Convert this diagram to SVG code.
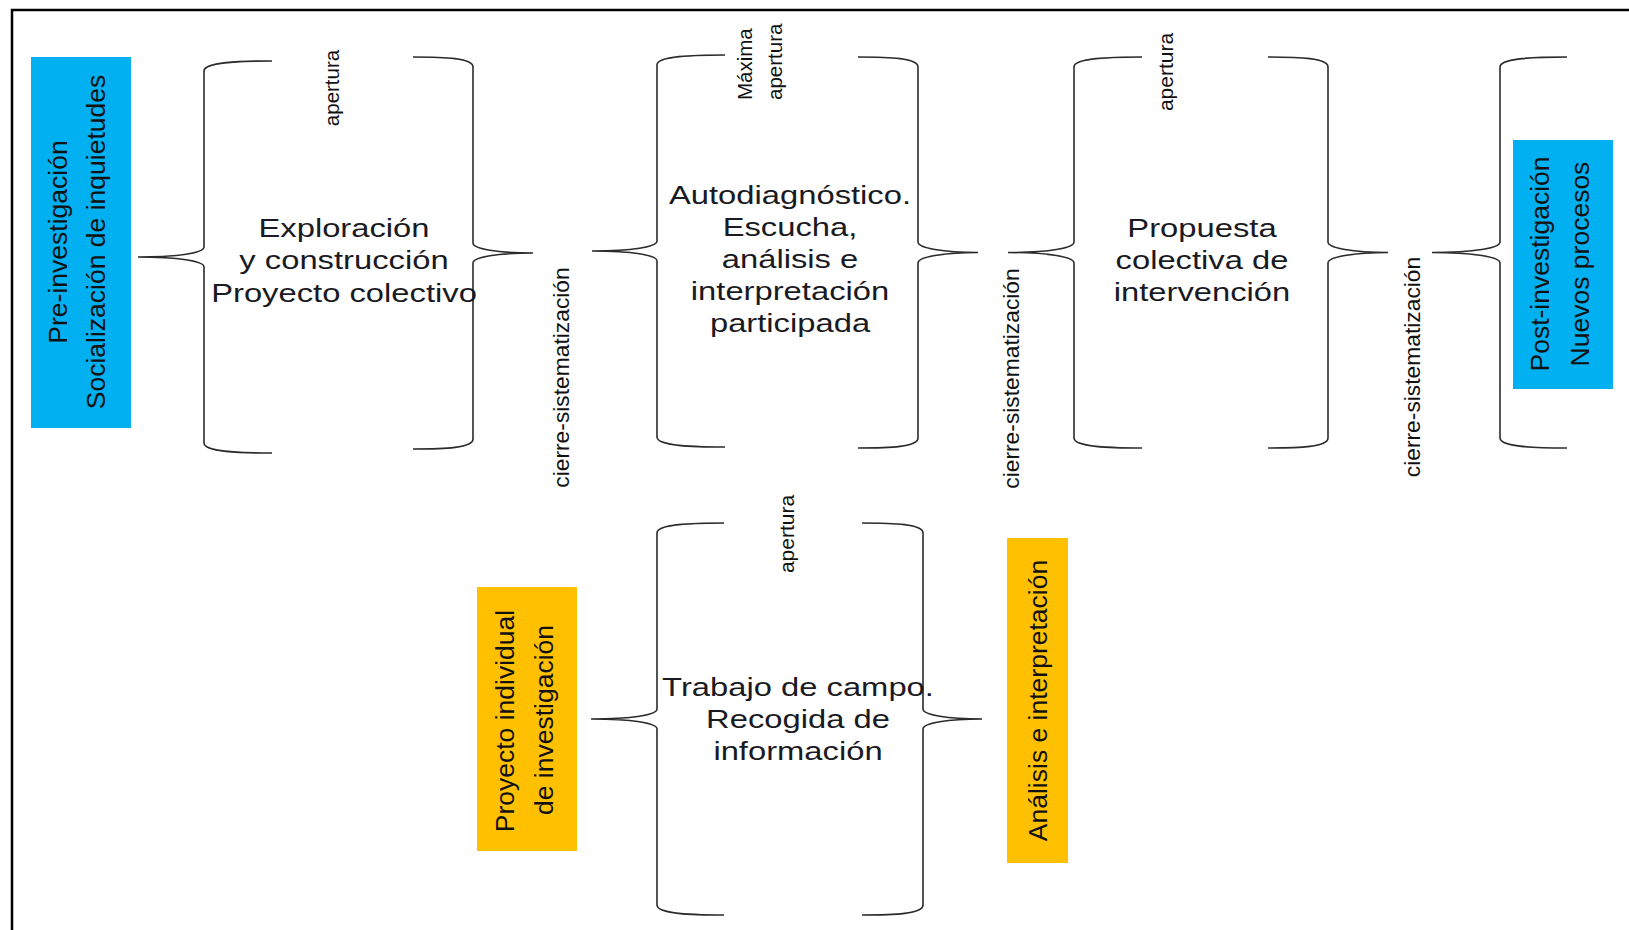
<svg xmlns="http://www.w3.org/2000/svg" width="1629" height="930" viewBox="0 0 1629 930">
<style>
  .bg{fill:#ffffff}
  .frame{fill:none;stroke:#000;stroke-width:2.5}
  .brace{fill:none;stroke:#2b2b2b;stroke-width:1.6}
  .blue{fill:#00B0F0}
  .yellow{fill:#FFC000}
  .box{font-family:"Liberation Sans",Arial,sans-serif;font-size:26.5px;fill:#111;text-anchor:middle}
  .mid{font-family:"Liberation Sans",Arial,sans-serif;font-size:25px;fill:#1a1a22;text-anchor:middle}
  .lab{font-family:"Liberation Sans",Arial,sans-serif;font-size:20.5px;fill:#111}
  .cierre{font-family:"Liberation Sans",Arial,sans-serif;font-size:22.8px;fill:#111;text-anchor:middle}
</style>
<rect class="bg" x="0" y="0" width="1629" height="930"/>
<path class="frame" d="M12,930 L12,10 L1629,10"/>

<g id="pre-investigacion">
  <rect class="blue" x="31" y="57" width="100" height="371"/>
  <text class="box" transform="translate(67,242) rotate(-90)">Pre-investigación</text>
  <text class="box" transform="translate(105,242) rotate(-90)">Socialización de inquietudes</text>
</g>

<g id="exploracion">
  <path class="brace" d="M272,61 C240,61 204,62 204,71 L204,247 C204,253 178,257 138,257 C178,257 204,261 204,267 L204,443 C204,452 240,453 272,453"/>
  <path class="brace" d="M413,57 C445,57 473,58 473,67 L473,243 C473,249 498,253 533,253 C498,253 473,257 473,263 L473,439 C473,448 445,449 413,449"/>
  <text class="lab" text-anchor="middle" transform="translate(339,88) rotate(-90)">apertura</text>
  <g transform="translate(344,0) scale(1.31,1)">
    <text class="mid" x="0" y="237">Exploración</text>
    <text class="mid" x="0" y="269">y construcción</text>
    <text class="mid" x="0" y="302">Proyecto colectivo</text>
  </g>
</g>

<g id="cierre-1">
  <text class="cierre" transform="translate(569,377.5) rotate(-90)">cierre-sistematización</text>
</g>

<g id="autodiagnostico">
  <path class="brace" d="M725,55 C693,55 657,56 657,65 L657,241 C657,247 632,251 592,251 C632,251 657,255 657,261 L657,437 C657,446 693,447 725,447"/>
  <path class="brace" d="M858,57 C890,57 918,58 918,67 L918,242 C918,248 943,252.5 978,252.5 C943,252.5 918,257 918,263 L918,438 C918,447 890,448 858,448"/>
  <text class="lab" transform="translate(752,100) rotate(-90)">Máxima</text>
  <text class="lab" transform="translate(782,100) rotate(-90)">apertura</text>
  <g transform="translate(790,0) scale(1.31,1)">
    <text class="mid" x="0" y="204">Autodiagnóstico.</text>
    <text class="mid" x="0" y="236">Escucha,</text>
    <text class="mid" x="0" y="268">análisis e</text>
    <text class="mid" x="0" y="300">interpretación</text>
    <text class="mid" x="0" y="332">participada</text>
  </g>
</g>

<g id="cierre-2">
  <text class="cierre" transform="translate(1019,378.5) rotate(-90)">cierre-sistematización</text>
</g>

<g id="propuesta">
  <path class="brace" d="M1142,57 C1110,57 1074,58 1074,67 L1074,242 C1074,248 1049,252.5 1008,252.5 C1049,252.5 1074,257 1074,263 L1074,438 C1074,447 1110,448 1142,448"/>
  <path class="brace" d="M1268,57 C1300,57 1328,58 1328,67 L1328,242 C1328,248 1353,252.5 1388,252.5 C1353,252.5 1328,257 1328,263 L1328,438 C1328,447 1300,448 1268,448"/>
  <text class="lab" text-anchor="middle" style="font-size:21px" transform="translate(1173,72) rotate(-90)">apertura</text>
  <g transform="translate(1202,0) scale(1.31,1)">
    <text class="mid" x="0" y="237">Propuesta</text>
    <text class="mid" x="0" y="269">colectiva de</text>
    <text class="mid" x="0" y="301">intervención</text>
  </g>
</g>

<g id="cierre-3">
  <text class="cierre" transform="translate(1420,367) rotate(-90)">cierre-sistematización</text>
</g>

<g id="post-investigacion">
  <path class="brace" d="M1567,57 C1535,57 1500,58 1500,67 L1500,242 C1500,248 1474,252.5 1432,252.5 C1474,252.5 1500,257 1500,263 L1500,438 C1500,447 1535,448 1567,448"/>
  <rect class="blue" x="1513" y="140" width="100" height="249"/>
  <text class="box" transform="translate(1549,264) rotate(-90)">Post-investigación</text>
  <text class="box" transform="translate(1589,264) rotate(-90)">Nuevos procesos</text>
</g>

<g id="proyecto-individual">
  <rect class="yellow" x="477" y="587" width="100" height="264"/>
  <text class="box" transform="translate(514,721) rotate(-90)">Proyecto individual</text>
  <text class="box" transform="translate(553,720) rotate(-90)">de investigación</text>
</g>

<g id="trabajo-campo">
  <path class="brace" d="M724,523 C692,523 657,524 657,533 L657,709 C657,715 632,719 591,719 C632,719 657,723 657,729 L657,905 C657,914 692,915 724,915"/>
  <path class="brace" d="M862,523 C894,523 923,524 923,533 L923,709 C923,715 948,719 982,719 C948,719 923,723 923,729 L923,905 C923,914 894,915 862,915"/>
  <text class="lab" text-anchor="middle" style="font-size:21px" transform="translate(793.5,534) rotate(-90)">apertura</text>
  <g transform="translate(798,0) scale(1.31,1)">
    <text class="mid" x="0" y="696">Trabajo de campo.</text>
    <text class="mid" x="0" y="728">Recogida de</text>
    <text class="mid" x="0" y="760">información</text>
  </g>
</g>

<g id="analisis">
  <rect class="yellow" x="1007" y="538" width="61" height="325"/>
  <text class="box" transform="translate(1047,700.5) rotate(-90)">Análisis e interpretación</text>
</g>

<g id="connectors"></g>
</svg>
